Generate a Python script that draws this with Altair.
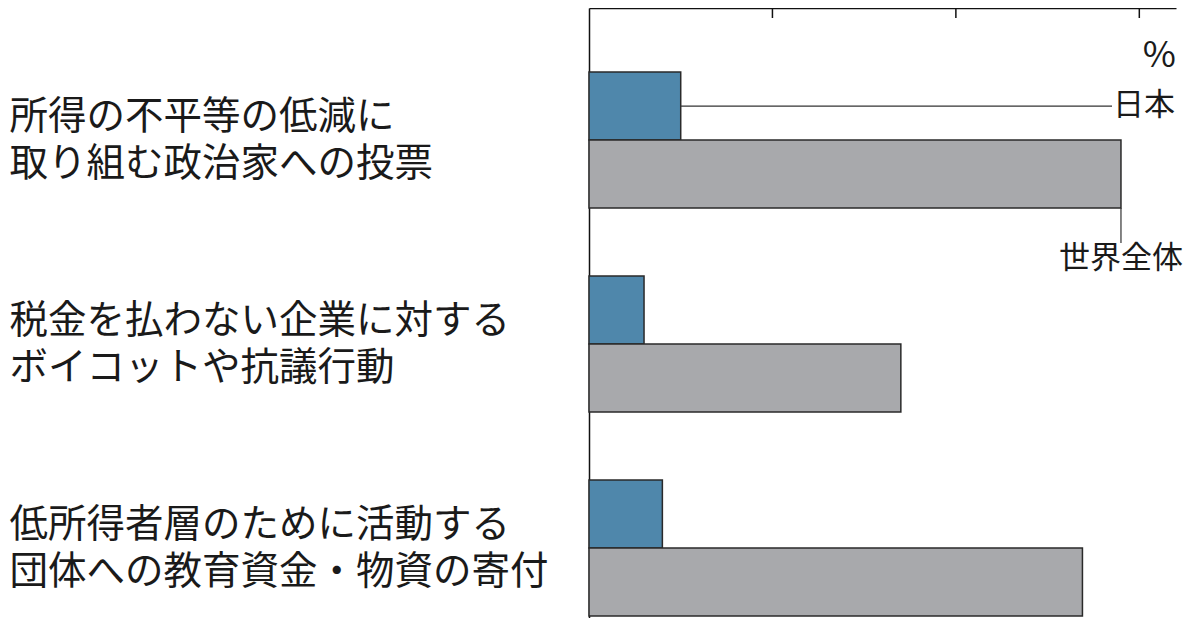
import altair as alt
import pandas as pd

# data (%)
categories = [
    "所得の不平等の低減に\n取り組む政治家への投票",
    "税金を払わない企業に対する\nボイコットや抗議行動",
    "低所得者層のために活動する\n団体への教育資金・物資の寄付",
]
series = ["日本", "世界全体"]
japan = [5.0, 3.0, 4.0]
world = [29.0, 17.0, 26.9]
tick_values = [10, 20, 30]
unit_label = ["%"]

colors = ["#4f87ab", "#a8a9ac"]
font = "Noto Sans CJK JP"
ink = "#1a1a1a"

df = pd.DataFrame({
    "category": categories * 2,
    "series": [series[0]] * len(categories) + [series[1]] * len(categories),
    "value": japan + world,
})

y_enc = alt.Y(
    "category:N", sort=categories, title=None,
    scale=alt.Scale(paddingInner=68 / 204, paddingOuter=0.1618, align=0.97),
    axis=alt.Axis(
        domain=True, domainColor="#111", domainWidth=1.5,
        ticks=False, tickSize=0, grid=False,
        labelPadding=580, labelAlign="left", labelBaseline="middle",
        labelOffset=-23,
        labelFont=font, labelFontSize=38.5, labelLineHeight=46.5,
        labelColor=ink, labelLimit=700,
        labelExpr="split(datum.label, '\\n')",
    ),
)
yoff = alt.YOffset("series:N", sort=series,
                   scale=alt.Scale(paddingInner=0, paddingOuter=0))
x_enc = alt.X(
    "value:Q", title=None,
    scale=alt.Scale(domain=[0, 32], nice=False, zero=True),
    axis=alt.Axis(orient="top", labels=False, ticks=False, tickSize=0,
                  grid=False, domainColor="#111", domainWidth=1.5),
)

bars = alt.Chart(df).mark_bar(stroke="#2a2a2a", strokeWidth=1.5).encode(
    x=x_enc, y=y_enc, yOffset=yoff,
    color=alt.Color("series:N", sort=series,
                    scale=alt.Scale(domain=series, range=colors), legend=None),
)

# top axis ticks pointing down into the plot
tick_rules = alt.Chart(pd.DataFrame({"t": tick_values})).mark_rule(
    color="#111", strokeWidth=1.5
).encode(x="t:Q", y=alt.value(0), y2=alt.value(10))

# direct labels for the two series on the first group
jp_row = df.iloc[[0]]
world_row = df.iloc[[len(categories)]]

jp_leader = alt.Chart(jp_row).mark_rule(color="#333", strokeWidth=1.2).encode(
    x="value:Q", x2=alt.value(523), y=y_enc, yOffset=yoff
)
jp_text = alt.Chart(jp_row).mark_text(
    font=font, fontSize=31, align="right", baseline="middle", color=ink
).encode(x=alt.value(586), y=y_enc, yOffset=yoff, text="series:N")

world_leader = alt.Chart(world_row).mark_rule(color="#333", strokeWidth=1.2).encode(
    x="value:Q", y=alt.value(200), y2=alt.value(235)
)
world_text = alt.Chart(world_row).mark_text(
    font=font, fontSize=31, align="right", baseline="middle", color=ink, dy=85
).encode(x=alt.value(594), y=y_enc, yOffset=yoff, text="series:N")

unit_text = alt.Chart(pd.DataFrame({"u": unit_label})).mark_text(
    font=font, fontSize=36, align="right", baseline="middle", color=ink
).encode(x=alt.value(587), y=alt.value(48), text="u:N")

chart = alt.layer(
    bars, tick_rules, jp_leader, jp_text, world_leader, world_text, unit_text
).properties(
    width=587, height=610,
    autosize=alt.AutoSizeParams(type="none"),
    padding={"left": 581, "top": 0, "right": 14, "bottom": 0},
).configure_view(stroke=None)

chart.save("out.html", embed_options={"renderer": "svg", "actions": False})
